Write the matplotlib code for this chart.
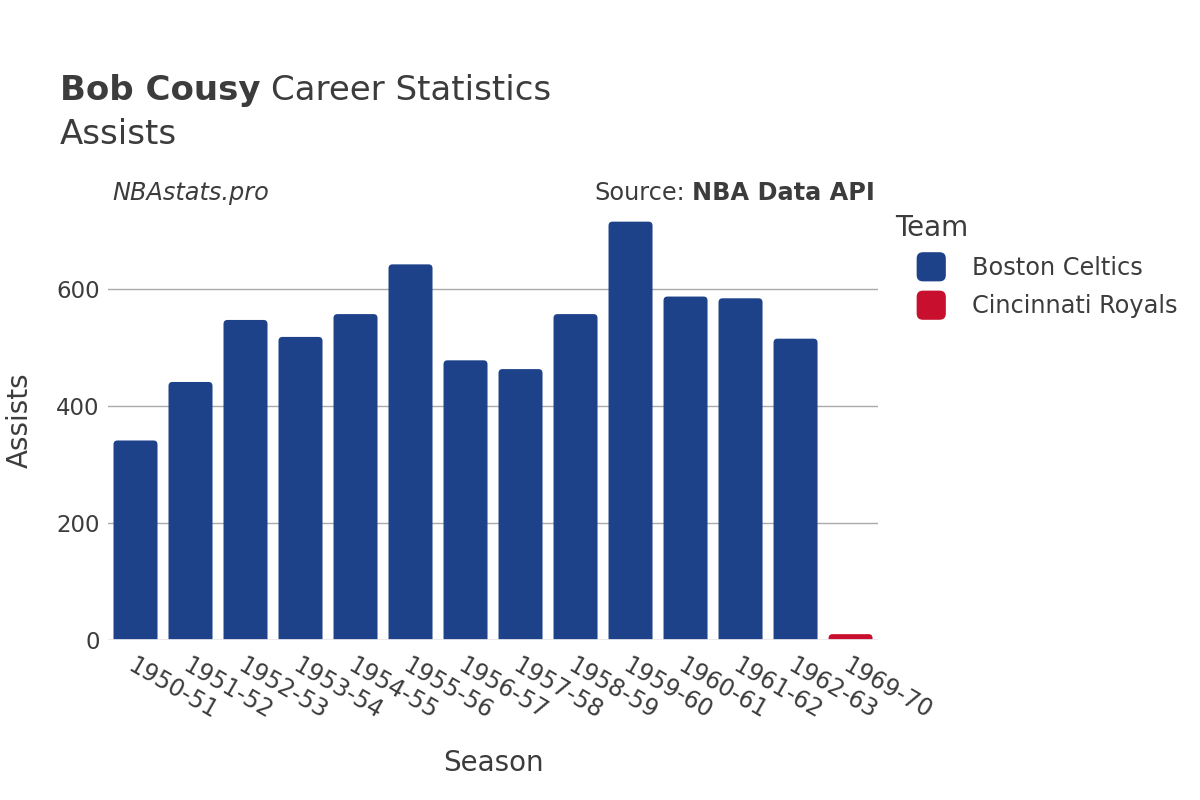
import matplotlib
matplotlib.use("Agg")
import matplotlib.pyplot as plt
from matplotlib.patches import FancyBboxPatch, Patch
from matplotlib.legend_handler import HandlerPatch

seasons = ["1950-51", "1951-52", "1952-53", "1953-54", "1954-55", "1955-56", "1956-57",
           "1957-58", "1958-59", "1959-60", "1960-61", "1961-62", "1962-63", "1969-70"]
assists = [341, 441, 547, 518, 557, 642, 478, 463, 557, 715, 587, 584, 515, 10]
teams = ["Boston Celtics"] * 13 + ["Cincinnati Royals"]
team_colors = {"Boston Celtics": "#1d4289", "Cincinnati Royals": "#c8102e"}
yticks = [0, 200, 400, 600]

text_color = "#3c3c3c"
plt.rcParams["font.family"] = "DejaVu Sans"


class RoundSquareHandler(HandlerPatch):
    def create_artists(self, legend, orig_handle, xdescent, ydescent,
                       width, height, fontsize, trans):
        size = 21
        cx = width / 2 - xdescent
        cy = height / 2 - ydescent
        p = FancyBboxPatch((cx - size / 2, cy - size / 2), size, size,
                           boxstyle="round,pad=0,rounding_size=4.5",
                           facecolor=orig_handle.get_facecolor(),
                           edgecolor="none", transform=trans)
        return [p]


fig = plt.figure(figsize=(12, 8), dpi=100)
ax = fig.add_axes([0.09, 0.2, 0.6417, 0.55])

ymax = 752
ax.set_xlim(-0.5, len(seasons) - 0.5)
ax.set_ylim(0, ymax)

# bars with rounded top corners
bar_w = 0.8
px_per_x = 0.6417 * 1200 / len(seasons)
px_per_y = 0.55 * 800 / ymax
r_x = 4.0 / px_per_x
aspect = px_per_x / px_per_y
for i, (v, tm) in enumerate(zip(assists, teams)):
    r_y = r_x * aspect
    patch = FancyBboxPatch((i - bar_w / 2, -r_y), bar_w, v + r_y,
                           boxstyle=f"round,pad=0,rounding_size={r_x}",
                           mutation_aspect=aspect,
                           facecolor=team_colors[tm], edgecolor="none", zorder=3)
    ax.add_patch(patch)

for y in yticks[1:]:
    ax.axhline(y, color="#aaaaaa", linewidth=1, zorder=1)
ax.axhline(0, color="#e8e8ee", linewidth=2, zorder=4)

for s in ax.spines.values():
    s.set_visible(False)

ax.set_yticks(yticks)
ax.set_yticklabels([str(y) for y in yticks], fontsize=16.5, color=text_color)
ax.set_xticks(range(len(seasons)))
ax.set_xticklabels(seasons, rotation=-30, ha="left", rotation_mode="anchor",
                   fontsize=17, color=text_color)
ax.tick_params(axis="both", length=0)
ax.tick_params(axis="x", pad=10)
ax.tick_params(axis="y", pad=6)

ax.set_xlabel("Season", fontsize=20, color=text_color, labelpad=18)
ax.set_ylabel("Assists", fontsize=20, color=text_color, labelpad=16)

# titles
t1 = fig.text(0.05, 0.875, "Bob Cousy", fontsize=24.5, fontweight="bold",
              color=text_color, va="baseline")
fig.canvas.draw()
bb = t1.get_window_extent(renderer=fig.canvas.get_renderer())
fig.text(bb.x1 / 1200 + 0.009, 0.875, "Career Statistics", fontsize=24.5,
         color=text_color, va="baseline")
fig.text(0.05, 0.82, "Assists", fontsize=24.5, color=text_color, va="baseline")

fig.text(0.094, 0.75, "NBAstats.pro", fontsize=17.3, style="italic",
         color=text_color, va="baseline")
s1 = fig.text(0.729, 0.75, "NBA Data API", fontsize=17.3, fontweight="bold",
              color=text_color, va="baseline", ha="right")
fig.canvas.draw()
bb2 = s1.get_window_extent(renderer=fig.canvas.get_renderer())
fig.text(bb2.x0 / 1200 - 0.006, 0.75, "Source:", fontsize=17.3,
         color=text_color, va="baseline", ha="right")

# legend
handles = [Patch(facecolor=team_colors[t]) for t in team_colors]
leg = fig.legend(handles, list(team_colors.keys()), loc="upper left",
                 bbox_to_anchor=(0.746, 0.733), frameon=False, title="Team",
                 fontsize=17.3, title_fontsize=20, labelspacing=0.6,
                 handlelength=3.0, handleheight=1.0, handletextpad=0.2,
                 borderaxespad=0, borderpad=0,
                 handler_map={Patch: RoundSquareHandler()})
leg._legend_box.align = "left"
leg._legend_box._children[1].sep = 0
for txt in leg.get_texts():
    txt.set_color(text_color)
leg.get_title().set_color(text_color)

fig.savefig("out.png", dpi=100, facecolor="white")
